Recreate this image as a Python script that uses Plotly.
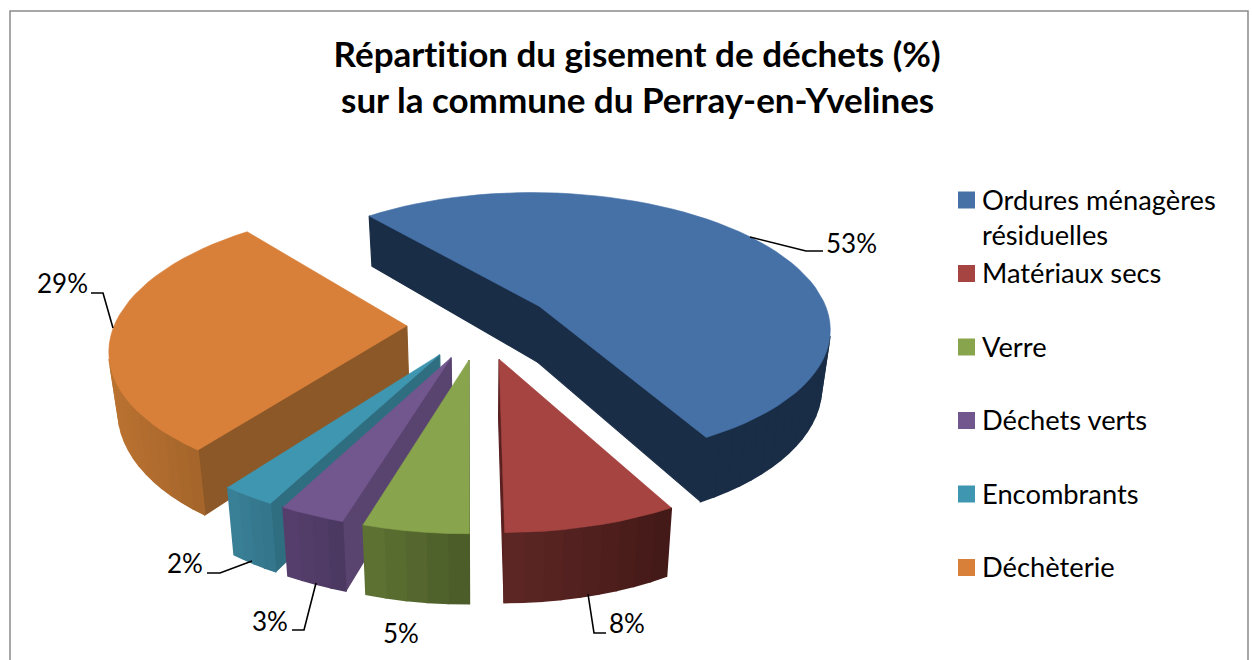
import math
import plotly.graph_objects as go

# ---- data ----
categories = ["Ordures ménagères<br>résiduelles", "Matériaux secs", "Verre",
              "Déchets verts", "Encombrants", "Déchèterie"]
values = [53.0, 7.9, 4.8, 3.0, 2.49, 28.8]   # unrounded shares
top_colors = ["#4571A7", "#A64442", "#88A54D", "#72568E", "#3F96B0", "#D8803A"]
radial_colors = ["#1A2D46", "#5A2020", "#4F6129", "#59436F", "#2F6E80", "#8C5827"]
arc_left_colors = ["#1A2D46", "#5E2725", "#5F7434", "#563F6C", "#3A8097", "#BA7230"]
arc_right_colors = ["#1A2D46", "#431917", "#4A5A28", "#4B3860", "#33758A", "#A4652B"]
title_lines = ["Répartition du gisement de déchets (%)", "sur la commune du Perray-en-Yvelines"]

# ---- projection of the tilted pie ----
CX, CY, RX, RY = 480, 325, 292.5, 136
PERSP, EXPLODE, DEPTH, BOTTOM_SCALE = 0.15, 0.25, 57, 0.975
START = -39.6
FONT = "Lato"


def project(u, v, low=False):
    s = 1 / (1 - PERSP * v)
    x = RX * u * s
    y = RY * v * s
    if low:
        return CX + x * BOTTOM_SCALE, CY + y + DEPTH * s
    return CX + x, CY + y


def hex2rgb(c):
    return [int(c[i:i + 2], 16) for i in (1, 3, 5)]


def mix(a, b, t):
    p, q = hex2rgb(a), hex2rgb(b)
    return "rgb(%d,%d,%d)" % tuple(round(p[i] + (q[i] - p[i]) * t) for i in range(3))


def area(pts):
    return sum(pts[i][0] * pts[(i + 1) % len(pts)][1] - pts[(i + 1) % len(pts)][0] * pts[i][1]
               for i in range(len(pts))) / 2


fig = go.Figure()


def poly(pts, color, width=1.2):
    xs = [p[0] for p in pts] + [pts[0][0]]
    ys = [p[1] for p in pts] + [pts[0][1]]
    fig.add_trace(go.Scatter(x=xs, y=ys, mode="lines", fill="toself", fillcolor=color,
                             line=dict(color=color, width=width), hoverinfo="skip",
                             showlegend=False))


total = sum(values)
spans = []
a0 = START
for val in values:
    a1 = a0 + 360 * val / total
    spans.append((a0, a1))
    a0 = a1

order = [0, 5, 4, 3, 2, 1]
for i in order:
    a0, a1 = spans[i]
    mid = math.radians((a0 + a1) / 2)
    ou, ov = EXPLODE * math.sin(mid), -EXPLODE * math.cos(mid)
    n = max(4, int((a1 - a0) / 3))
    rim = []
    for k in range(n + 1):
        t = math.radians(a0 + (a1 - a0) * k / n)
        rim.append((ou + math.sin(t), ov - math.cos(t)))

    # radial walls
    for end in (rim[0], rim[-1]):
        q = [project(ou, ov), project(*end), project(*end, low=True), project(ou, ov, low=True)]
        side = area(q) * (1 if end is rim[0] else -1)
        if side < 0:
            poly(q, radial_colors[i])
    # outer wall, shaded from its left to its right end on screen
    quads = []
    for k in range(n):
        q = [project(*rim[k]), project(*rim[k + 1]),
             project(*rim[k + 1], low=True), project(*rim[k], low=True)]
        if area(q) < 0:
            quads.append(q)
    if quads:
        xs = [q[0][0] for q in quads] + [q[1][0] for q in quads]
        lo, hi = min(xs), max(xs)
        for q in quads:
            poly(q, mix(arc_left_colors[i], arc_right_colors[i],
                        ((q[0][0] + q[1][0]) / 2 - lo) / max(hi - lo, 1)), width=1.6)
    # top face
    poly([project(ou, ov)] + [project(*p) for p in rim], top_colors[i], width=0.6)

# ---- legend (manual: the lines have unequal spacing in the reference) ----
LEG_X, LEG_Y0, LEG_STEP = 966.5, 200, 73.5
ann = []
leg_y = [LEG_Y0 + LEG_STEP * k for k in range(len(categories))]
fig.add_trace(go.Scatter(x=[LEG_X] * len(categories), y=leg_y, mode="markers",
                         marker=dict(symbol="square", size=17, color=top_colors,
                                     line=dict(width=0)),
                         hoverinfo="skip", showlegend=False))
for k, name in enumerate(categories):
    ann.append(dict(x=980, y=leg_y[k] - 19.5, text=name, xanchor="left", yanchor="top",
                    align="left", showarrow=False,
                    font=dict(family=FONT, size=27.3, color="#000000")))

# ---- data labels and leader lines ----
label_pos = [(851, 243), (627, 623), (401, 633), (270, 621), (185, 563), (62, 283)]
leaders = [[(750, 237), (806, 251), (823, 251)],
           [(588, 594), (594, 633), (606, 633)],
           None,
           [(316, 583), (304, 630), (292, 630)],
           [(252, 561), (220, 573), (207, 573)],
           [(113, 328), (103, 293), (91, 293)]]
shapes = [dict(type="rect", x0=10, y0=11, x1=1248, y1=680, line=dict(color="#8A8A8A", width=1.5),
               fillcolor="rgba(0,0,0,0)", layer="below")]
for k, val in enumerate(values):
    ann.append(dict(x=label_pos[k][0], y=label_pos[k][1], text=f"{round(val)}%", showarrow=False,
                    font=dict(family=FONT, size=26, color="#000000")))
    if leaders[k]:
        pts = leaders[k]
        shapes.append(dict(type="path", line=dict(color="#000000", width=1.6),
                           path="M " + " L ".join(f"{a} {b}" for a, b in pts)))

# ---- title ----
for k, line in enumerate(title_lines):
    ann.append(dict(x=637, y=53 + 46 * k, text=f"<b>{line}</b>", showarrow=False,
                    font=dict(family=FONT, size=35, color="#000000")))

fig.update_layout(
    width=1252, height=660, margin=dict(l=0, r=0, t=0, b=0),
    paper_bgcolor="white", plot_bgcolor="white", showlegend=False,
    xaxis=dict(range=[0, 1252], visible=False, fixedrange=True),
    yaxis=dict(range=[660, 0], visible=False, fixedrange=True),
    annotations=ann, shapes=shapes,
)
fig.write_html("out.html", config=dict(displayModeBar=False),
               post_script="document.body.style.margin='0';document.body.style.overflow='hidden';"
                           "var s=document.createElement('style');"
                           "s.textContent='text,tspan{font-variant-ligatures:none !important}';"
                           "document.head.appendChild(s);")
